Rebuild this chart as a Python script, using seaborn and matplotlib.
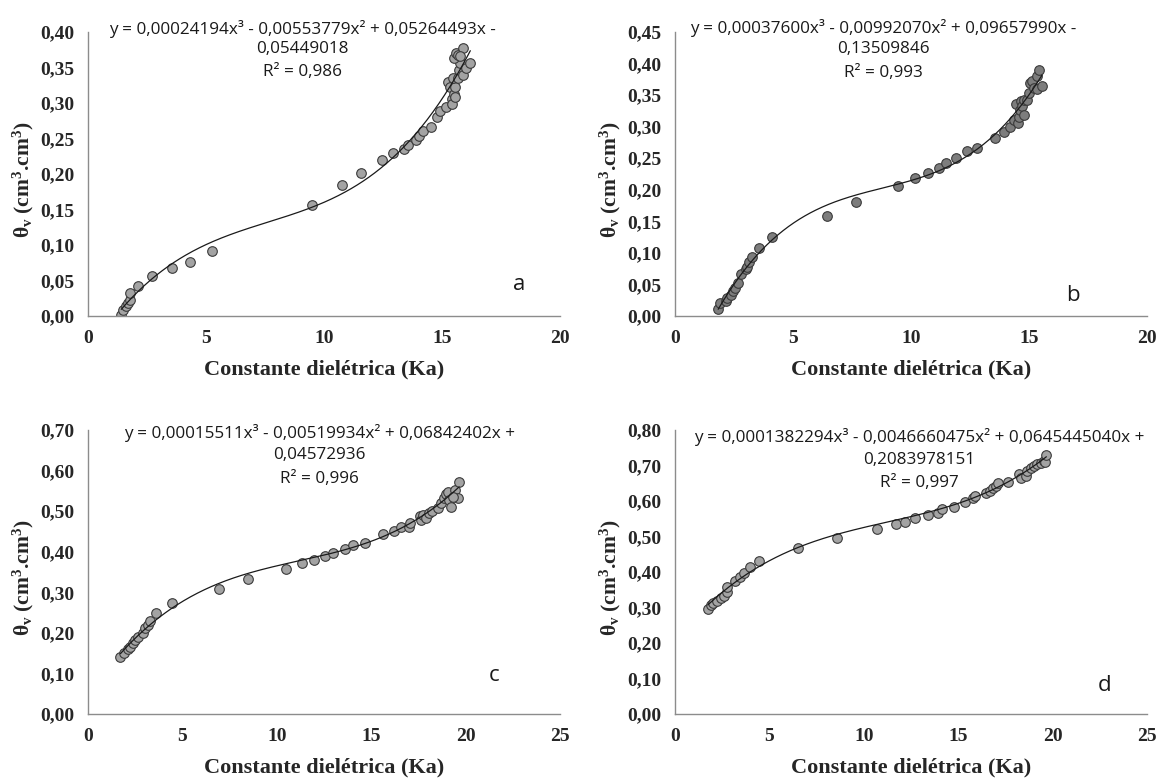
import numpy as np
import pandas as pd
import matplotlib
matplotlib.use("Agg")
import matplotlib.pyplot as plt
import seaborn as sns
from matplotlib.ticker import FixedLocator, FuncFormatter

sns.set_style("white")
plt.rcParams['font.family'] = ['Liberation Serif', 'DejaVu Serif']
plt.rcParams['mathtext.fontset'] = 'custom'
plt.rcParams['mathtext.rm'] = 'Liberation Serif:bold'
plt.rcParams['mathtext.it'] = 'Liberation Serif:bold'
plt.rcParams['mathtext.bf'] = 'Liberation Serif:bold'

# ---------------- data ----------------
ka_a = [1.41, 1.50, 1.61, 1.69, 1.77, 1.80, 2.10, 2.71, 3.54, 4.32, 5.27, 9.51, 10.77, 11.55,
        12.46, 12.91, 13.38, 13.58, 13.90, 14.02, 14.18, 14.52, 14.80, 14.91, 15.18, 15.26,
        15.35, 15.41, 15.41, 15.50, 15.54, 15.57, 15.46, 15.66, 15.70, 15.77, 15.50, 15.60,
        15.66, 15.88, 15.88, 16.00, 16.20, 15.77]
th_a = [0.002, 0.008, 0.014, 0.018, 0.023, 0.032, 0.042, 0.057, 0.067, 0.076, 0.091, 0.157, 0.184,
        0.202, 0.220, 0.229, 0.235, 0.241, 0.248, 0.253, 0.261, 0.266, 0.280, 0.289, 0.295, 0.329,
        0.322, 0.305, 0.298, 0.312, 0.323, 0.309, 0.335, 0.335, 0.347, 0.356, 0.363, 0.371,
        0.368, 0.377, 0.340, 0.349, 0.356, 0.366]

ka_b = [1.83, 1.90, 2.14, 2.22, 2.37, 2.45, 2.53, 2.65, 2.81, 3.00, 3.07, 3.15, 3.28, 3.57, 4.09,
        6.43, 7.68, 9.47, 10.17, 10.72, 11.19, 11.50, 11.89, 12.36, 12.79, 13.57, 13.95, 14.20,
        14.35, 14.46, 14.54, 14.57, 14.62, 14.66, 14.70, 14.77, 14.77, 14.93, 14.98, 15.04,
        15.13, 15.20, 15.32, 15.35, 15.44, 15.55]
th_b = [0.011, 0.020, 0.023, 0.029, 0.033, 0.039, 0.044, 0.053, 0.067, 0.074, 0.078, 0.086, 0.093,
        0.107, 0.125, 0.158, 0.181, 0.206, 0.219, 0.226, 0.234, 0.243, 0.250, 0.261, 0.266, 0.282,
        0.291, 0.299, 0.311, 0.336, 0.306, 0.316, 0.327, 0.340, 0.333, 0.319, 0.343, 0.343, 0.353,
        0.369, 0.372, 0.361, 0.380, 0.360, 0.390, 0.365]

ka_c = [1.72, 1.92, 2.11, 2.25, 2.37, 2.50, 2.64, 2.90, 3.03, 3.19, 3.29, 3.58, 4.46, 6.94, 8.47,
        10.49, 11.35, 11.95, 12.54, 13.00, 13.60, 14.05, 14.69, 15.61, 16.20, 16.59, 16.98, 17.08,
        17.57, 17.66, 17.76, 17.90, 18.05, 18.21, 18.55, 18.68, 18.84, 18.94, 19.07, 19.13, 19.23,
        19.46, 19.58, 19.66, 19.33]
th_c = [0.141, 0.150, 0.159, 0.164, 0.174, 0.182, 0.191, 0.199, 0.211, 0.219, 0.230, 0.250, 0.274,
        0.307, 0.332, 0.357, 0.371, 0.380, 0.389, 0.396, 0.406, 0.417, 0.422, 0.443, 0.452, 0.460,
        0.462, 0.472, 0.488, 0.478, 0.491, 0.482, 0.495, 0.500, 0.507, 0.519, 0.532, 0.542, 0.546,
        0.528, 0.511, 0.552, 0.532, 0.571, 0.536]

ka_d = [1.74, 1.89, 2.03, 2.23, 2.42, 2.58, 2.73, 2.77, 3.16, 3.46, 3.65, 3.95, 4.47, 6.52, 8.59,
        10.68, 11.70, 12.19, 12.73, 13.42, 13.91, 14.14, 14.79, 15.37, 15.76, 15.90, 16.48, 16.68,
        16.84, 16.99, 17.13, 17.62, 18.20, 18.30, 18.59, 18.63, 18.83, 19.02, 19.18, 19.38, 19.53,
        19.61, 19.67]
th_d = [0.295, 0.307, 0.312, 0.319, 0.326, 0.331, 0.345, 0.359, 0.375, 0.387, 0.396, 0.413, 0.431,
        0.467, 0.495, 0.520, 0.534, 0.541, 0.551, 0.561, 0.565, 0.577, 0.582, 0.598, 0.608, 0.614,
        0.622, 0.629, 0.636, 0.642, 0.650, 0.654, 0.676, 0.664, 0.670, 0.685, 0.692, 0.699, 0.704,
        0.708, 0.714, 0.711, 0.730]

# cubic trendline coefficients (highest power first), as printed on the chart
coef_a = [0.00024194, -0.00553779, 0.05264493, -0.05449018]
coef_b = [0.00037600, -0.00992070, 0.09657990, -0.13509846]
coef_c = [0.00015511, -0.00519934, 0.06842402, 0.04572936]
coef_d = [0.0001382294, -0.0046660475, 0.0645445040, 0.2083978151]

eq_a = ["y = 0,00024194x³ - 0,00553779x² + 0,05264493x -", "0,05449018", "R² = 0,986"]
eq_b = ["y = 0,00037600x³ - 0,00992070x² + 0,09657990x -", "0,13509846", "R² = 0,993"]
eq_c = ["y = 0,00015511x³ - 0,00519934x² + 0,06842402x +", "0,04572936", "R² = 0,996"]
eq_d = ["y = 0,0001382294x³ - 0,0046660475x² + 0,0645445040x +", "0,2083978151", "R² = 0,997"]

letters = ["a", "b", "c", "d"]
xticks_ab = [0, 5, 10, 15, 20]
xticks_cd = [0, 5, 10, 15, 20, 25]
yticks_a = [0.00, 0.05, 0.10, 0.15, 0.20, 0.25, 0.30, 0.35, 0.40]
yticks_b = [0.00, 0.05, 0.10, 0.15, 0.20, 0.25, 0.30, 0.35, 0.40, 0.45]
yticks_c = [0.00, 0.10, 0.20, 0.30, 0.40, 0.50, 0.60, 0.70]
yticks_d = [0.00, 0.10, 0.20, 0.30, 0.40, 0.50, 0.60, 0.70, 0.80]

xlabel = "Constante dielétrica (Ka)"
ylabel = r"$\theta_v$ (cm$^3$.cm$^3$)"

# ---------------- figure ----------------
W, H = 1158, 779
fig = plt.figure(figsize=(W / 100, H / 100), dpi=100)

def box(l, r, t, b):
    return [l / W, (H - b) / H, (r - l) / W, (b - t) / H]

panels = [
    dict(rect=box(88, 560, 32, 316), ka=ka_a, th=th_a, coef=coef_a, eq=eq_a, xt=xticks_ab, yt=yticks_a,
         fc="#a3a3a3", eqx=0.455, eqy=(1.010, 0.939, 0.860), let=(0.914, 0.112)),
    dict(rect=box(675, 1147, 32, 316), ka=ka_b, th=th_b, coef=coef_b, eq=eq_b, xt=xticks_ab, yt=yticks_b,
         fc="#7d7d7d", eqx=0.442, eqy=(1.013, 0.939, 0.857), let=(0.844, 0.073)),
    dict(rect=box(88, 560, 430, 714), ka=ka_c, th=th_c, coef=coef_c, eq=eq_c, xt=xticks_cd, yt=yticks_c,
         fc="#a3a3a3", eqx=0.491, eqy=(0.988, 0.912, 0.826), let=(0.861, 0.137)),
    dict(rect=box(675, 1147, 430, 714), ka=ka_d, th=th_d, coef=coef_d, eq=eq_d, xt=xticks_cd, yt=yticks_d,
         fc="#a3a3a3", eqx=0.518, eqy=(0.976, 0.894, 0.812), let=(0.910, 0.102)),
]

spine_col = "#8c8c8c"
sans = ["Open Sans", "DejaVu Sans"]
for p, letter in zip(panels, letters):
    ax = fig.add_axes(p["rect"])
    df = pd.DataFrame({"ka": p["ka"], "theta": p["th"]})
    xs = np.linspace(min(p["ka"]), max(p["ka"]), 300)
    ax.plot(xs, np.polyval(p["coef"], xs), color="#1a1a1a", lw=0.9, zorder=3)
    sns.scatterplot(data=df, x="ka", y="theta", ax=ax, s=48, color=p["fc"],
                    edgecolor="#3a3a3a", linewidth=0.8, zorder=2, legend=False)
    ax.set_xlim(p["xt"][0], p["xt"][-1])
    ax.set_ylim(p["yt"][0], p["yt"][-1])
    ax.xaxis.set_major_locator(FixedLocator(p["xt"]))
    ax.yaxis.set_major_locator(FixedLocator(p["yt"]))
    ax.yaxis.set_major_formatter(FuncFormatter(lambda v, pos: f"{v:.2f}".replace(".", ",")))
    ax.xaxis.set_major_formatter(FuncFormatter(lambda v, pos: f"{int(round(v))}"))
    for s in ["top", "right"]:
        ax.spines[s].set_visible(False)
    for s in ["left", "bottom"]:
        ax.spines[s].set_color(spine_col)
        ax.spines[s].set_linewidth(1.0)
    ax.tick_params(axis="both", which="major", direction="out", length=4, width=1.0,
                   color=spine_col, labelsize=14)
    ax.tick_params(axis="x", pad=6)
    ax.tick_params(axis="y", pad=6)
    for lab in ax.get_xticklabels() + ax.get_yticklabels():
        lab.set_fontweight("bold")
    ax.set_xlabel(xlabel, fontsize=16, fontweight="bold", va="center")
    ax.set_ylabel(ylabel, fontsize=15.5, fontweight="bold", va="center")
    ax.xaxis.set_label_coords(0.5, -0.19)
    ax.yaxis.set_label_coords(-0.137, 0.48)
    for line, yy in zip(p["eq"], p["eqy"]):
        ax.text(p["eqx"], yy, line, transform=ax.transAxes, ha="center", va="center",
                fontsize=12.3, family=sans, color="#1a1a1a")
    ax.text(p["let"][0], p["let"][1], letter, transform=ax.transAxes, ha="center", va="center",
            fontsize=16, family=sans, color="#1a1a1a")
    ax.set_facecolor("white")

fig.savefig("out.png", dpi=100, facecolor="white")
